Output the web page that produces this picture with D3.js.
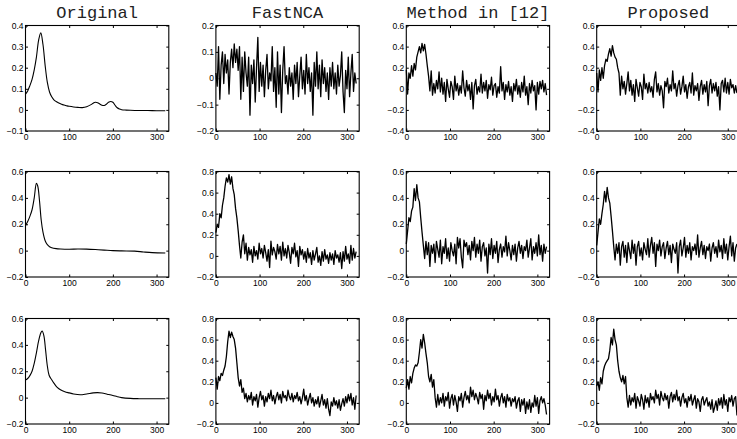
<!DOCTYPE html>
<html>
<head>
<meta charset="utf-8">
<script src="https://cdn.jsdelivr.net/npm/d3@7"></script>
<style>
  body { margin: 0; background: #fff; }
  .tick text { font: 8.5px "Liberation Sans", Arial, sans-serif; fill: #000; }
  .title { font: 17px "Liberation Mono", "Courier New", monospace; fill: #222; }
</style>
</head>
<body>
<script>
'use strict';

// column titles and axis ticks
var titles = ['Original', 'FastNCA', 'Method in [12]', 'Proposed'];
var xTicks = [0, 100, 200, 300];
var yTicksRow1 = [[-0.1, 0, 0.1, 0.2, 0.3, 0.4], [-0.2, -0.1, 0, 0.1, 0.2], [-0.4, -0.2, 0, 0.2, 0.4, 0.6], [-0.4, -0.2, 0, 0.2, 0.4, 0.6]];
var yTicksRow2 = [[-0.2, 0, 0.2, 0.4, 0.6], [-0.2, 0, 0.2, 0.4, 0.6, 0.8], [-0.2, 0, 0.2, 0.4, 0.6], [-0.2, 0, 0.2, 0.4, 0.6]];
var yTicksRow3 = [[-0.2, 0, 0.2, 0.4, 0.6], [-0.2, 0, 0.2, 0.4, 0.6, 0.8], [-0.2, 0, 0.2, 0.4, 0.6, 0.8], [-0.2, 0, 0.2, 0.4, 0.6, 0.8]];

// smooth original profiles, [sample, value]
var original1 = [[0,0.075],[5,0.09],[10,0.115],[15,0.145],[20,0.19],[25,0.25],[30,0.33],[35,0.365],[40,0.31],[45,0.21],[50,0.13],[55,0.085],[60,0.062],[65,0.048],[70,0.04],[75,0.034],[80,0.029],[85,0.025],[90,0.022],[95,0.019],[100,0.017],[110,0.014],[120,0.012],[130,0.011],[140,0.015],[150,0.025],[155,0.032],[160,0.036],[165,0.034],[170,0.028],[175,0.022],[180,0.021],[185,0.027],[190,0.036],[195,0.04],[200,0.036],[205,0.022],[210,0.01],[215,0.004],[220,0.001],[230,-0.001],[240,-0.002],[260,-0.003],[280,-0.003],[300,-0.004],[320,-0.004]];
var original2 = [[0,0.19],[5,0.22],[10,0.26],[15,0.31],[20,0.4],[25,0.51],[28,0.49],[32,0.38],[36,0.23],[40,0.14],[45,0.075],[50,0.045],[55,0.03],[60,0.022],[70,0.015],[80,0.012],[100,0.01],[120,0.012],[140,0.011],[160,0.008],[180,0.004],[200,0.0],[220,-0.002],[250,-0.004],[270,-0.01],[290,-0.015],[320,-0.018]];
var original3 = [[0,0.133],[5,0.145],[10,0.167],[15,0.2],[20,0.26],[25,0.34],[30,0.43],[35,0.49],[38,0.505],[42,0.47],[46,0.36],[50,0.24],[54,0.17],[60,0.135],[65,0.11],[72,0.08],[80,0.06],[90,0.045],[100,0.036],[110,0.028],[125,0.022],[140,0.028],[155,0.036],[165,0.038],[175,0.035],[187,0.026],[200,0.016],[210,0.007],[220,0.0],[240,-0.006],[260,-0.008],[290,-0.009],[320,-0.009]];

// noisy estimates, one value every 3 samples from 0
var fastnca1 = [0.02,-0.03,0.12,-0.08,0.05,0.10,-0.02,0.09,0.02,0.07,-0.06,0.06,0.11,0.04,0.13,0.06,0.11,0.03,0.12,-0.08,0.08,-0.05,0.10,0.02,-0.03,0.08,-0.14,0.05,-0.02,0.07,-0.09,0.04,0.155,-0.05,0.06,-0.03,0.05,-0.07,0.03,0.09,-0.04,0.02,-0.01,0.12,-0.05,0.04,-0.11,0.10,-0.06,0.05,-0.13,0.03,0.12,-0.02,0.01,-0.06,0.04,-0.03,0.02,-0.08,0.05,-0.02,0.06,-0.07,0.01,0.08,-0.04,0.03,-0.06,0.09,-0.02,0.04,-0.05,0.02,-0.14,0.06,-0.03,0.10,-0.04,0.05,-0.07,0.07,-0.02,0.04,-0.05,0.02,-0.08,0.04,-0.03,0.06,-0.04,0.02,-0.06,0.05,-0.03,0.01,0.10,-0.05,-0.13,0.03,-0.04,0.08,-0.07,0.02,0.09,-0.05,0.02,-0.02];
var method1 = [0.18,-0.05,0.15,0.10,0.22,0.12,0.24,0.18,0.30,0.35,0.40,0.34,0.43,0.36,0.42,0.33,0.22,0.12,-0.02,0.17,-0.06,0.05,-0.04,0.08,0.0,0.16,-0.03,0.10,-0.05,0.06,-0.12,0.09,0.0,-0.08,0.07,0.02,-0.10,0.12,-0.02,0.05,-0.06,0.03,-0.04,0.17,0.01,-0.07,0.08,-0.02,0.04,-0.10,0.06,-0.19,0.03,0.09,-0.05,0.02,-0.03,0.14,-0.04,0.06,-0.02,0.08,-0.09,0.04,-0.01,0.11,-0.06,0.03,0.05,-0.08,0.02,-0.04,0.21,-0.02,0.06,-0.10,0.04,-0.03,0.07,-0.06,0.02,-0.12,0.05,-0.02,0.09,-0.05,0.03,-0.08,0.06,-0.03,0.12,-0.06,0.02,-0.15,0.05,-0.04,0.08,-0.02,0.03,-0.20,0.06,-0.05,0.07,0.0,0.08,-0.03,0.05,-0.06];
var proposed1 = [0.15,-0.03,0.18,0.08,0.20,0.10,0.22,0.28,0.26,0.33,0.38,0.31,0.41,0.34,0.30,0.28,0.20,0.15,-0.06,0.12,0.0,0.07,-0.05,0.05,0.16,-0.02,0.08,-0.06,0.04,-0.12,0.09,0.01,-0.07,0.06,0.02,-0.10,0.14,0.0,0.05,-0.04,0.06,-0.03,0.02,-0.08,0.09,0.16,-0.03,0.05,-0.06,0.03,-0.02,-0.18,0.07,0.02,0.10,-0.04,0.04,-0.02,0.17,0.0,0.05,-0.07,0.03,0.08,-0.05,0.02,0.12,-0.03,0.04,-0.09,0.02,0.06,-0.04,0.15,-0.06,0.03,-0.02,0.05,-0.11,0.02,0.08,-0.05,0.04,-0.03,0.07,-0.16,0.03,0.09,-0.04,0.05,-0.02,0.06,-0.07,0.02,-0.20,0.05,0.08,-0.03,0.10,-0.04,0.06,-0.05,0.09,0.01,0.04,-0.04,0.03,-0.04];

var fastnca2 = [0.22,0.30,0.27,0.40,0.36,0.48,0.55,0.66,0.74,0.70,0.77,0.68,0.75,0.64,0.58,0.45,0.36,0.24,0.10,-0.02,0.13,0.20,0.02,0.12,-0.04,0.08,0.01,0.06,-0.06,0.09,0.0,0.05,-0.03,0.12,0.02,0.07,-0.02,0.10,0.03,-0.05,0.06,-0.11,0.14,0.01,0.08,0.04,-0.03,0.11,0.02,0.09,-0.04,0.13,0.0,0.07,-0.02,0.10,0.03,-0.07,0.08,0.02,0.12,-0.01,0.05,-0.10,0.09,0.01,0.06,-0.03,0.04,-0.06,0.07,-0.02,0.03,-0.08,0.05,-0.04,0.02,0.08,-0.06,0.0,-0.09,0.04,-0.05,0.06,-0.03,0.01,-0.07,0.03,-0.04,0.02,-0.08,0.05,-0.02,0.01,-0.06,0.03,-0.12,0.04,-0.05,0.09,-0.03,0.02,-0.07,0.10,-0.04,0.07,-0.02,0.04];
var method2 = [0.05,0.15,0.25,0.22,0.30,0.33,0.47,0.38,0.50,0.40,0.37,0.25,0.14,0.04,-0.06,0.07,-0.03,0.06,-0.12,0.04,-0.02,0.05,-0.09,0.07,0.01,-0.05,0.08,-0.10,0.03,-0.02,0.09,-0.06,0.02,-0.08,0.06,0.0,-0.04,0.05,-0.10,0.10,0.02,0.09,-0.05,-0.13,0.08,0.03,0.06,-0.03,0.04,-0.07,0.07,0.0,0.10,-0.05,0.05,-0.02,0.08,-0.08,0.03,0.06,-0.04,0.02,-0.17,0.05,-0.03,0.09,-0.06,0.04,-0.02,0.07,-0.09,0.01,0.05,-0.05,0.03,-0.01,0.11,-0.04,0.06,0.0,-0.07,0.04,-0.03,0.05,-0.08,0.02,0.07,-0.02,0.04,-0.06,0.03,0.0,0.08,-0.05,0.02,0.09,-0.07,0.03,-0.02,0.06,-0.04,0.12,-0.03,0.04,-0.08,0.05,-0.02,0.03];
var proposed2 = [0.04,0.14,0.24,0.20,0.28,0.35,0.45,0.37,0.48,0.40,0.36,0.26,0.15,0.03,-0.07,0.05,-0.02,0.06,-0.11,0.03,0.07,-0.05,0.04,-0.09,0.06,0.0,-0.06,0.08,-0.02,0.05,-0.11,0.03,0.07,-0.04,0.02,-0.07,0.06,0.01,-0.03,0.09,-0.05,0.04,0.10,-0.02,0.06,-0.12,0.05,0.0,0.08,-0.04,0.03,0.06,-0.06,0.02,0.07,-0.03,0.04,-0.09,0.05,0.01,-0.02,0.06,-0.17,0.03,0.08,-0.04,0.02,0.10,-0.05,0.04,-0.02,0.06,-0.07,0.03,0.0,0.05,-0.03,0.12,-0.05,0.02,0.07,-0.03,0.04,-0.06,0.03,0.0,0.05,-0.08,0.02,0.06,-0.02,0.03,-0.05,0.08,-0.01,0.04,-0.06,0.09,-0.02,0.05,-0.07,0.03,0.11,-0.04,0.06,-0.08,0.02,0.05];

var fastnca3 = [0.24,0.13,0.25,0.21,0.28,0.26,0.31,0.35,0.44,0.58,0.68,0.62,0.67,0.63,0.60,0.52,0.38,0.24,0.16,0.22,0.10,0.14,0.04,0.09,0.01,0.07,0.03,0.10,-0.02,0.06,0.02,0.08,-0.04,0.05,0.11,0.03,0.07,-0.03,0.06,0.01,0.09,0.04,0.12,0.02,0.07,-0.01,0.06,0.10,0.03,0.08,0.0,0.11,0.05,0.07,0.02,0.12,0.06,0.03,0.09,0.01,0.07,0.04,0.10,0.02,0.06,-0.01,0.05,0.13,0.02,0.07,-0.02,0.04,0.09,0.0,0.05,-0.03,0.03,-0.01,0.06,-0.04,0.02,0.08,-0.02,0.03,-0.05,0.04,-0.06,-0.12,0.01,-0.03,0.05,-0.02,0.02,-0.05,0.03,-0.07,-0.01,0.04,-0.03,0.06,0.0,0.08,0.02,0.09,-0.02,0.05,-0.06,0.07];
var method3 = [0.14,0.22,0.13,0.25,0.19,0.28,0.33,0.36,0.35,0.38,0.48,0.60,0.52,0.65,0.57,0.47,0.38,0.25,0.20,0.27,0.15,0.22,0.05,-0.04,0.08,-0.02,0.05,0.0,0.09,-0.03,0.06,0.02,0.10,-0.05,0.04,0.08,-0.02,0.07,0.01,-0.08,0.06,0.02,0.09,-0.04,0.05,0.11,0.03,0.07,0.0,0.15,0.06,0.12,0.03,0.09,0.05,-0.01,0.10,0.04,0.08,-0.06,0.07,0.02,0.12,0.04,0.09,-0.02,0.06,0.01,0.13,0.03,0.07,-0.03,0.05,0.09,0.0,0.06,-0.04,0.08,0.02,0.05,-0.03,0.04,0.01,0.06,-0.05,0.02,0.05,-0.08,0.03,-0.02,0.04,-0.10,0.01,-0.06,0.03,-0.09,0.0,-0.04,0.07,-0.03,0.05,-0.10,0.02,0.06,0.0,0.04,-0.02,-0.11];
var proposed3 = [0.16,0.20,0.12,0.24,0.18,0.30,0.35,0.38,0.40,0.42,0.50,0.62,0.55,0.70,0.60,0.55,0.40,0.30,0.24,0.20,0.26,0.18,0.25,0.05,-0.04,0.07,-0.02,0.05,0.01,0.09,-0.05,0.06,0.02,-0.03,0.08,0.03,-0.06,0.07,0.0,0.05,-0.04,0.09,0.03,0.06,0.0,0.12,0.04,0.08,-0.02,0.11,0.05,0.02,0.09,0.03,0.07,-0.05,0.06,0.10,0.01,0.08,0.03,0.12,0.02,0.06,-0.03,0.05,0.09,0.0,0.04,-0.04,0.06,0.02,0.08,-0.02,0.03,0.07,-0.05,0.04,0.01,-0.08,0.03,0.06,-0.02,0.02,0.05,-0.03,0.01,-0.06,0.03,-0.09,-0.04,0.02,-0.07,0.04,-0.02,0.05,-0.05,0.08,-0.02,0.03,-0.08,0.05,0.01,0.07,-0.03,0.04,0.06,-0.12];

var noisyStep = 3;

var rows = [
  {ticks: yTicksRow1, series: [original1, fastnca1, method1, proposed1]},
  {ticks: yTicksRow2, series: [original2, fastnca2, method2, proposed2]},
  {ticks: yTicksRow3, series: [original3, fastnca3, method3, proposed3]}
];

var width = 737, height = 439;
var panelW = 143.3, panelH = 105.5;
var colLeft = function (i) { return 25.5 + i * 190.4; };
var rowTop = [25.5, 171.5, 318.5];
var tickLen = 2.5;

var svg = d3.select('body').append('svg')
    .attr('width', width)
    .attr('height', height);

var x = d3.scaleLinear().domain([0, 328]).range([0, panelW]);

var yFormat = function (d) { return d === 0 ? '0' : d3.format('.1f')(d); };

titles.forEach(function (t, i) {
  svg.append('text')
      .attr('class', 'title')
      .attr('x', colLeft(i) + panelW / 2)
      .attr('y', 18)
      .attr('text-anchor', 'middle')
      .text(t);
});

rows.forEach(function (row, r) {
  row.series.forEach(function (s, c) {
    var ticks = row.ticks[c];
    var y = d3.scaleLinear()
        .domain([ticks[0], ticks[ticks.length - 1]])
        .range([panelH, 0]);

    var g = svg.append('g')
        .attr('transform', 'translate(' + colLeft(c) + ',' + rowTop[r] + ')');

    var pts = (c === 0) ? s : s.map(function (v, i) { return [i * noisyStep, v]; });

    var line = d3.line()
        .x(function (d) { return x(d[0]); })
        .y(function (d) { return y(d[1]); })
        .curve(c === 0 ? d3.curveCatmullRom.alpha(0.5) : d3.curveLinear);

    g.append('path')
        .datum(pts)
        .attr('d', line)
        .style('fill', 'none')
        .style('stroke', '#000')
        .style('stroke-width', c === 0 ? 1.1 : 1.3)
        .style('stroke-linejoin', 'round');

    // box with inward ticks on all four sides
    g.append('g')
        .attr('transform', 'translate(0,' + panelH + ')')
        .call(d3.axisBottom(x).tickValues(xTicks).tickFormat(d3.format('d'))
            .tickSizeInner(-tickLen).tickSizeOuter(0).tickPadding(3));
    g.append('g')
        .call(d3.axisTop(x).tickValues(xTicks).tickFormat('')
            .tickSizeInner(-tickLen).tickSizeOuter(0));
    g.append('g')
        .call(d3.axisLeft(y).tickValues(ticks).tickFormat(yFormat)
            .tickSizeInner(-tickLen).tickSizeOuter(0).tickPadding(2));
    g.append('g')
        .attr('transform', 'translate(' + panelW + ',0)')
        .call(d3.axisRight(y).tickValues(ticks).tickFormat('')
            .tickSizeInner(-tickLen).tickSizeOuter(0));

    g.selectAll('.domain').remove();
    g.selectAll('.tick line').style('stroke', '#000');

    g.append('rect')
        .attr('width', panelW)
        .attr('height', panelH)
        .style('fill', 'none')
        .style('stroke', '#000')
        .style('stroke-width', 1.1);
  });
});
</script>
</body>
</html>
